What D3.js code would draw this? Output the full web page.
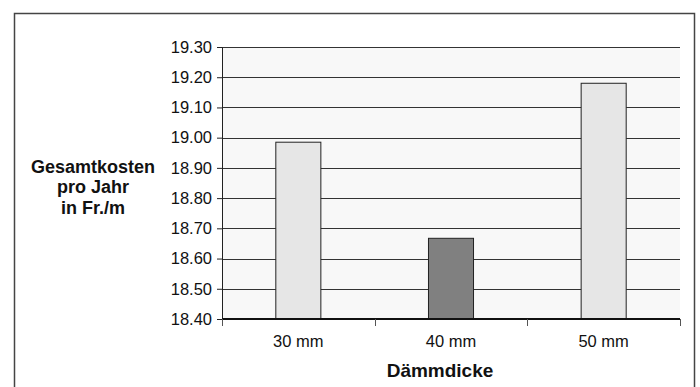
<!DOCTYPE html>
<html>
<head>
<meta charset="utf-8">
<script src="https://cdn.jsdelivr.net/npm/d3@7"></script>
<style>
  body { margin: 0; background: #fff; }
  svg text { font-family: "Liberation Sans", Arial, sans-serif; fill: #111; }
</style>
</head>
<body>
<svg class="chart" width="700" height="387"></svg>
<script>
// data
var categories = ['30 mm', '40 mm', '50 mm'];
var costs = [18.985, 18.667, 19.18];
var yTicks = [18.40, 18.50, 18.60, 18.70, 18.80, 18.90, 19.00, 19.10, 19.20, 19.30];
var yTitle = ['Gesamtkosten', 'pro Jahr', 'in Fr./m'];
var xTitle = 'Dämmdicke';

var svg = d3.select('.chart');
var plot = {l: 222, r: 680, t: 47, b: 319};

// outer frame
svg.append('rect')
  .attr('x', 14.5).attr('y', 13.5)
  .attr('width', 680).attr('height', 400)
  .attr('fill', '#fff')
  .attr('stroke', '#444')
  .attr('stroke-width', 1.5);

var xScale = d3.scaleBand().domain(categories).range([plot.l, plot.r]).padding(0);
var yScale = d3.scaleLinear().domain([18.4, 19.3]).range([plot.b, plot.t]);

// plot background
svg.append('rect')
  .attr('x', plot.l).attr('y', plot.t)
  .attr('width', plot.r - plot.l).attr('height', plot.b - plot.t)
  .attr('fill', '#f8f8f8');

// gridlines
svg.append('g').selectAll('line')
  .data(yTicks)
  .enter().append('line')
  .attr('x1', plot.l).attr('x2', plot.r)
  .attr('y1', function(d) { return Math.round(yScale(d)) + 0.5; })
  .attr('y2', function(d) { return Math.round(yScale(d)) + 0.5; })
  .attr('stroke', '#333')
  .attr('stroke-width', 1);

// bars
var barW = xScale.bandwidth() * 0.295;
var minCost = d3.min(costs);
svg.append('g').selectAll('rect')
  .data(costs)
  .enter().append('rect')
  .attr('x', function(d, i) { return xScale(categories[i]) + (xScale.bandwidth() - barW) / 2; })
  .attr('y', function(d) { return yScale(d); })
  .attr('width', barW)
  .attr('height', function(d) { return yScale(18.4) - yScale(d); })
  .attr('fill', function(d) { return d === minCost ? '#808080' : '#e6e6e6'; })
  .attr('stroke', '#222')
  .attr('stroke-width', 1);

// y axis
var yAxis = d3.axisLeft(yScale)
  .tickValues(yTicks)
  .tickFormat(d3.format('.2f'))
  .tickSize(5)
  .tickPadding(5);
var yG = svg.append('g')
  .attr('transform', 'translate(' + plot.l + ',0)')
  .call(yAxis);
yG.select('.domain').attr('stroke', '#222');
yG.selectAll('.tick line').attr('stroke', '#222');
yG.selectAll('text')
  .style('font-family', '"Liberation Sans", Arial, sans-serif')
  .style('font-size', '16.5px')
  .attr('fill', '#111');

// x axis: ticks sit on category boundaries
var xG = svg.append('g')
  .attr('transform', 'translate(0,' + plot.b + ')');
xG.append('line')
  .attr('x1', plot.l).attr('x2', plot.r)
  .attr('stroke', '#111').attr('stroke-width', 2);
var bounds = categories.map(function(c) { return xScale(c); }).concat([xScale.range()[1]]);
xG.selectAll('.bound')
  .data(bounds)
  .enter().append('line')
  .attr('class', 'bound')
  .attr('x1', function(d) { return Math.round(d) + 0.5; })
  .attr('x2', function(d) { return Math.round(d) + 0.5; })
  .attr('y1', 0).attr('y2', 7)
  .attr('stroke', '#555');
xG.selectAll('.lab')
  .data(categories)
  .enter().append('text')
  .attr('class', 'lab')
  .attr('x', function(d) { return xScale(d) + xScale.bandwidth() / 2; })
  .attr('y', 28)
  .attr('text-anchor', 'middle')
  .style('font-size', '16.5px')
  .text(function(d) { return d; });

// axis titles
svg.append('text')
  .attr('x', 440).attr('y', 377)
  .attr('text-anchor', 'middle')
  .style('font-size', '19px')
  .style('font-weight', 'bold')
  .text(xTitle);

svg.append('text')
  .attr('text-anchor', 'middle')
  .style('font-size', '18px')
  .style('font-weight', 'bold')
  .selectAll('tspan')
  .data(yTitle)
  .enter().append('tspan')
  .attr('x', 93)
  .attr('y', function(d, i) { return 172.5 + i * 20.8; })
  .text(function(d) { return d; });
</script>
</body>
</html>
